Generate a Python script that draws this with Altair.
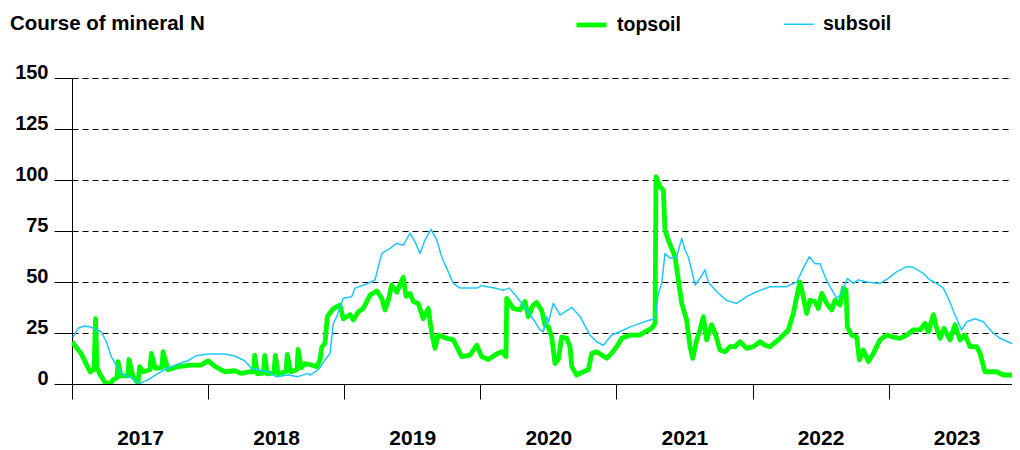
import altair as alt
import pandas as pd

title_text = ["Course of mineral N"]
series_names = ["topsoil", "subsoil"]
series_colors = ["#00ff00", "#1ec8ff"]
series_widths = [4.8, 1.5]
year_ticks = [2017, 2018, 2019, 2020, 2021, 2022, 2023]
y_ticks = [0, 25, 50, 75, 100, 125, 150]

top_t = [2017.000, 2017.066, 2017.103, 2017.132, 2017.162, 2017.173, 2017.184, 2017.204, 2017.240, 2017.277,
         2017.301, 2017.331, 2017.338, 2017.360, 2017.411, 2017.419, 2017.448, 2017.485, 2017.497, 2017.522,
         2017.573, 2017.583, 2017.612, 2017.661, 2017.669, 2017.705, 2017.779, 2017.877, 2017.950, 2017.999,
         2018.048, 2018.122, 2018.195, 2018.244, 2018.306, 2018.334, 2018.342, 2018.362, 2018.407, 2018.416,
         2018.435, 2018.484, 2018.494, 2018.514, 2018.572, 2018.582, 2018.607, 2018.653, 2018.661, 2018.685,
         2018.712, 2018.761, 2018.798, 2018.822, 2018.835, 2018.859, 2018.876, 2018.920, 2018.969, 2018.993,
         2019.043, 2019.067, 2019.104, 2019.140, 2019.190, 2019.239, 2019.276, 2019.300, 2019.324, 2019.349,
         2019.386, 2019.434, 2019.454, 2019.483, 2019.508, 2019.544, 2019.581, 2019.618, 2019.643, 2019.667,
         2019.691, 2019.753, 2019.802, 2019.827, 2019.863, 2019.924, 2019.974, 2020.010, 2020.059, 2020.120,
         2020.157, 2020.189, 2020.194, 2020.243, 2020.292, 2020.328, 2020.353, 2020.389, 2020.414, 2020.451,
         2020.475, 2020.500, 2020.525, 2020.549, 2020.573, 2020.598, 2020.635, 2020.659, 2020.672, 2020.708,
         2020.757, 2020.794, 2020.819, 2020.855, 2020.892, 2020.929, 2020.965, 2021.002, 2021.039, 2021.100,
         2021.173, 2021.210, 2021.259, 2021.284, 2021.291, 2021.320, 2021.345, 2021.357, 2021.381, 2021.406,
         2021.431, 2021.455, 2021.480, 2021.516, 2021.541, 2021.561, 2021.590, 2021.614, 2021.639, 2021.663,
         2021.700, 2021.725, 2021.761, 2021.798, 2021.835, 2021.871, 2021.908, 2021.957, 2022.006, 2022.055,
         2022.092, 2022.129, 2022.202, 2022.263, 2022.300, 2022.325, 2022.349, 2022.373, 2022.398, 2022.422,
         2022.459, 2022.483, 2022.508, 2022.545, 2022.582, 2022.606, 2022.643, 2022.667, 2022.687, 2022.697,
         2022.729, 2022.766, 2022.785, 2022.814, 2022.851, 2022.888, 2022.937, 2022.986, 2023.035, 2023.084,
         2023.133, 2023.181, 2023.231, 2023.267, 2023.292, 2023.329, 2023.353, 2023.378, 2023.407, 2023.451,
         2023.488, 2023.525, 2023.561, 2023.598, 2023.647, 2023.672, 2023.708, 2023.794, 2023.843, 2023.916,
         2023.953]

top_v = [20.7, 15, 10, 6, 7, 32, 8, 5, 1, 0,
         2, 3, 11, 4, 4, 12, 3.5, 0.5, 8.5, 6,
         7, 15, 7.7, 8, 15.8, 7, 8.5, 9.3, 9.3, 11.4,
         8.8, 6, 6.5, 5.2, 6, 6, 14, 5, 5.5, 14,
         5, 5.5, 14, 5, 6, 14.5, 6, 7, 17, 8,
         10, 9.3, 8.5, 11.7, 18, 20, 33, 37, 38.7, 32,
         34, 31.4, 35.4, 37, 43.6, 45.6, 42, 36.3, 41, 48.5,
         45, 52.3, 43, 44.4, 40.4, 39.5, 32, 37, 25, 17.5,
         24, 22.4, 21.6, 18.3, 13.4, 14.2, 19, 13.4, 12, 14.7,
         15.8, 13.4, 42, 37, 36.3, 40.4, 33, 38.7, 40, 36,
         29, 28, 23, 10, 12, 23, 22.4, 18.3, 8.5, 4.4,
         6, 7, 15, 15.8, 14.2, 12.6, 15, 18.3, 22.4, 24,
         24, 25.6, 27.3, 29.7, 101.6, 96.7, 95, 75.5, 70.6, 66.5,
         62.4, 51, 39.5, 31.4, 18.3, 12.6, 21.6, 26.5, 33, 21.6,
         29, 25, 16.7, 15.8, 18.3, 18.3, 20.7, 17.5, 18.3, 20.7,
         19, 18.3, 22.4, 26.5, 34.6, 42.8, 50, 42.8, 34.6, 41,
         40.4, 37, 44.4, 39.5, 36.3, 41, 38.7, 47, 46, 28,
         24, 23, 11.8, 16.7, 11, 15, 21.6, 24, 23, 22.4,
         24, 26.5, 26.5, 29.7, 25.6, 34, 27.3, 22.4, 27.3, 21.6,
         29, 21.6, 24, 18.3, 18.3, 15, 6, 6, 4.4, 4.4,
         9.3]

sub_t = [2017.007, 2017.044, 2017.093, 2017.142, 2017.215, 2017.252, 2017.289, 2017.338, 2017.375, 2017.424,
         2017.497, 2017.558, 2017.632, 2017.705, 2017.779, 2017.852, 2017.913, 2017.999, 2018.122, 2018.195,
         2018.269, 2018.317, 2018.440, 2018.501, 2018.587, 2018.661, 2018.734, 2018.749, 2018.810, 2018.859,
         2018.896, 2018.920, 2018.945, 2018.993, 2019.055, 2019.079, 2019.165, 2019.226, 2019.276, 2019.337,
         2019.386, 2019.434, 2019.483, 2019.520, 2019.557, 2019.594, 2019.638, 2019.680, 2019.716, 2019.753,
         2019.802, 2019.851, 2019.974, 2020.010, 2020.096, 2020.169, 2020.213, 2020.267, 2020.341, 2020.402,
         2020.439, 2020.463, 2020.488, 2020.500, 2020.536, 2020.586, 2020.672, 2020.733, 2020.806, 2020.855,
         2020.904, 2020.965, 2021.026, 2021.100, 2021.173, 2021.247, 2021.284, 2021.308, 2021.333, 2021.357,
         2021.396, 2021.443, 2021.480, 2021.504, 2021.528, 2021.553, 2021.578, 2021.614, 2021.651, 2021.675,
         2021.737, 2021.810, 2021.884, 2021.957, 2022.031, 2022.129, 2022.251, 2022.325, 2022.373, 2022.418,
         2022.459, 2022.496, 2022.533, 2022.569, 2022.619, 2022.655, 2022.697, 2022.741, 2022.777, 2022.839,
         2022.937, 2022.998, 2023.059, 2023.133, 2023.181, 2023.255, 2023.304, 2023.353, 2023.402, 2023.439,
         2023.488, 2023.537, 2023.573, 2023.635, 2023.696, 2023.758, 2023.818, 2023.892, 2023.960]

sub_v = [23, 27.3, 28.4, 27.8, 25.6, 20.7, 13.4, 7.7, 4.4, 3.6,
         0.3, 2, 5.2, 7.7, 9.8, 11.4, 13.9, 14.7, 14.7, 13.7,
         11.4, 7.7, 6, 3.6, 4.4, 3.6, 5.2, 4.4, 7, 11.8,
         15, 29.7, 33, 42, 42.8, 47, 49, 51, 64, 66.5,
         69, 68, 73.9, 69.8, 64, 70.6, 75.8, 70.6, 62.4, 56.7,
         49.3, 47, 47, 48.2, 47.2, 46, 47, 42.8, 36.3, 30.5,
         26.5, 25.6, 33, 30, 39.5, 33.8, 37.6, 33, 24, 20.7,
         19, 24, 25.6, 28, 29.7, 31.4, 32, 44.4, 49.3, 64,
         61.6, 62.4, 71.4, 65.7, 62.4, 55.9, 48.5, 51.8, 55.9, 50,
         45.2, 41, 39.5, 42.8, 45.2, 47.7, 47.7, 50, 56.7, 62.4,
         59, 59, 52.6, 47.7, 42, 44.4, 51.8, 49.3, 51, 50,
         49.3, 51.8, 55, 57.5, 57.2, 54.2, 51, 49.3, 47, 42,
         33.8, 26.5, 30.5, 32, 30.5, 25.6, 22.4, 20.2, 18.3]

df_top = pd.DataFrame({"t": top_t, "v": top_v, "series": series_names[0]})
df_sub = pd.DataFrame({"t": sub_t, "v": sub_v, "series": series_names[1]})
df_title = pd.DataFrame({"label": title_text})

FONT = "Liberation Sans"
PLOT_W = 940
YEAR_PX = 136.1
X_END = 2017 + PLOT_W / YEAR_PX

legend = alt.Legend(
    title=None, orient="none", legendX=502, legendY=-71, direction="horizontal",
    symbolType="stroke", symbolSize=900, labelFont=FONT, labelFontSize=19.5,
    labelFontWeight="bold", labelColor="black", labelOffset=8, columnPadding=100,
)

x_enc = alt.X(
    "t:Q",
    scale=alt.Scale(domain=[2017, X_END], nice=False, zero=False),
    axis=alt.Axis(
        values=year_ticks, format="d", labelOffset=68, tickSize=15, labelPadding=28,
        grid=False, title=None, labelFont=FONT, labelFontSize=21, labelFontWeight="bold",
        labelColor="black", domainColor="black", tickColor="black", labelFlush=False,
        labelOverlap=False, labelBound=False,
    ),
)
y_enc = alt.Y(
    "v:Q",
    scale=alt.Scale(domain=[0, 150], nice=False),
    axis=alt.Axis(
        values=y_ticks, tickSize=18, labelPadding=6, labelBaseline="alphabetic",
        grid=True, gridDash=[6, 4], gridColor="black", gridOpacity=1, gridWidth=1.2,
        title=None, labelFont=FONT, labelFontSize=20, labelFontWeight="bold",
        labelColor="black", domainColor="black", tickColor="black",
    ),
)
color_enc = alt.Color("series:N", scale=alt.Scale(domain=series_names, range=series_colors), legend=legend)
width_enc = alt.StrokeWidth("series:N", scale=alt.Scale(domain=series_names, range=series_widths), legend=legend)

top_line = alt.Chart(df_top).mark_line(strokeJoin="round", clip=True).encode(
    x=x_enc, y=y_enc, color=color_enc, strokeWidth=width_enc
)
sub_line = alt.Chart(df_sub).mark_line(strokeJoin="round", clip=True).encode(
    x=x_enc, y=y_enc, color=color_enc, strokeWidth=width_enc
)
title_mark = alt.Chart(df_title).mark_text(
    align="left", baseline="alphabetic", font=FONT, fontSize=20.5, fontWeight="bold", color="black"
).encode(x=alt.value(-62), y=alt.value(-48), text="label:N")

chart = alt.layer(top_line, sub_line, title_mark).properties(
    width=PLOT_W,
    height=306,
    autosize=alt.AutoSizeParams(type="none"),
    padding={"left": 64, "top": 70, "right": 0, "bottom": 66},
).configure_view(strokeWidth=0).configure(background="white")

chart.save("out.html", embed_options={"renderer": "svg", "actions": False})
